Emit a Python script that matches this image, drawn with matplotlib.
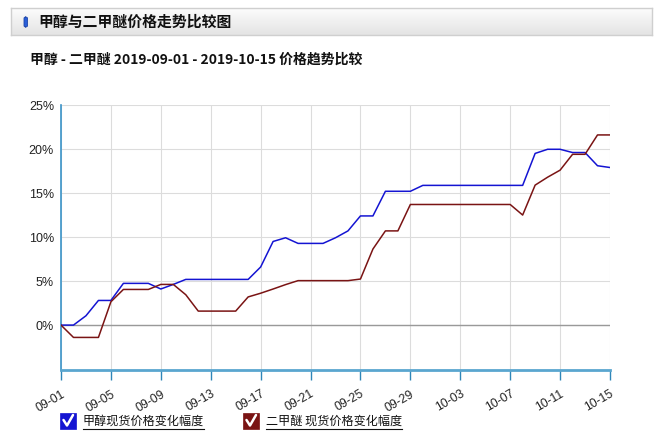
import numpy as np
import pandas as pd
import matplotlib
matplotlib.use('Agg')
import matplotlib.pyplot as plt
from matplotlib.patches import Rectangle, FancyBboxPatch
from matplotlib.lines import Line2D

plt.rcParams['font.family'] = ['Noto Sans CJK SC', 'DejaVu Sans']

# data (% change since 2019-09-01)
dates = pd.date_range('2019-09-01', '2019-10-15', freq='D')
methanol = [0, 0, 1.06, 2.8, 2.8, 4.74, 4.74, 4.74, 4.1, 4.62,
            5.19, 5.19, 5.19, 5.19, 5.19, 5.19, 6.6, 9.5, 9.92, 9.28,
            9.28, 9.28, 9.92, 10.7, 12.4, 12.4, 15.2, 15.2, 15.2, 15.87,
            15.87, 15.87, 15.87, 15.87, 15.87, 15.87, 15.87, 15.87, 19.5, 19.97,
            19.97, 19.6, 19.6, 18.1, 17.9]
dme = [0, -1.4, -1.4, -1.4, 2.65, 4.05, 4.05, 4.05, 4.62, 4.62,
       3.45, 1.59, 1.59, 1.59, 1.59, 3.2, 3.62, 4.1, 4.6, 5.05,
       5.05, 5.05, 5.05, 5.05, 5.23, 8.64, 10.7, 10.7, 13.7, 13.7,
       13.7, 13.7, 13.7, 13.7, 13.7, 13.7, 13.7, 12.5, 15.9, 16.8,
       17.6, 19.4, 19.4, 21.6, 21.6]
y_ticks = [0, 5, 10, 15, 20, 25]
series_names = ['甲醇现货价格变化幅度', '二甲醚 现货价格变化幅度']
series_colors = ['#1414d2', '#7a1414']

W, H = 658, 441
fig = plt.figure(figsize=(W / 100, H / 100), dpi=100)
fig.patch.set_facecolor('white')


def fx(px):
    return px / W


def fy(py):
    return 1 - py / H


# header bar with soft gradient
hax = fig.add_axes([fx(11), fy(35), fx(641), 27 / H])
grad = np.linspace(0, 1, 50).reshape(-1, 1)
hax.imshow(grad, aspect='auto', cmap=matplotlib.colors.LinearSegmentedColormap.from_list(
    'hdr', ['#fcfcfc', '#e4e4e4']), extent=[0, 1, 0, 1])
hax.set_xticks([])
hax.set_yticks([])
for sp in hax.spines.values():
    sp.set_color('#cfcfcf')
    sp.set_linewidth(1)

fig.add_artist(FancyBboxPatch((fx(24), fy(27)), fx(3.5), 10 / H,
                              boxstyle='round,pad=0,rounding_size=0.003',
                              transform=fig.transFigure, facecolor='#2a5fd8',
                              edgecolor='#1c44a8', linewidth=0.6))
fig.text(fx(38), fy(21.5), '甲醇与二甲醚价格走势比较图', fontsize=10.7,
         fontweight='bold', va='center', ha='left', color='#111111')

fig.text(fx(30), fy(60), '甲醇 - 二甲醚 2019-09-01 - 2019-10-15 价格趋势比较',
         fontsize=10, fontweight='bold', va='center', ha='left', color='#111111')

# main plot
ax = fig.add_axes([fx(61), fy(370), fx(549), (370 - 105) / H])
x = np.arange(len(dates))
ax.plot(x, methanol, color=series_colors[0], linewidth=1.1, zorder=3)
ax.plot(x, dme, color=series_colors[1], linewidth=1.1, zorder=3)

ax.set_xlim(0, len(dates) - 1)
ax.set_ylim(-5.1, 25)
ax.set_yticks(y_ticks)
ax.set_yticklabels([f'{v}%' for v in y_ticks], family='Liberation Sans',
                   fontsize=9, color='#222222')
xt = x[::4]
ax.set_xticks(xt)
ax.set_xticklabels([dates[i].strftime('%m-%d') for i in xt], rotation=30,
                   ha='right', rotation_mode='anchor', family='Liberation Sans',
                   fontsize=8.7, color='#222222')
ax.tick_params(axis='x', length=7, width=1, color='#2f86b8', pad=6)
ax.tick_params(axis='y', length=0, pad=5)

ax.grid(True, color='#dcdcdc', linewidth=0.8)
ax.set_axisbelow(True)
ax.axhline(0, color='#999999', linewidth=1, zorder=2)

for side in ['top', 'right']:
    ax.spines[side].set_visible(False)
ax.spines['left'].set_color('#3a93c8')
ax.spines['left'].set_linewidth(1.2)
ax.spines['bottom'].set_color('#5aa6cf')
ax.spines['bottom'].set_linewidth(2)

# legend with checkboxes
renderer = fig.canvas.get_renderer()
box_x = [60, 243]
for bx, name, col in zip(box_x, series_names, series_colors):
    fig.add_artist(Rectangle((fx(bx), fy(429)), fx(16), 16 / H,
                             transform=fig.transFigure, facecolor=col,
                             edgecolor=col, linewidth=0.5))
    cx = [bx + 3.5, bx + 7, bx + 13]
    cy = [420, 425.5, 415]
    fig.add_artist(Line2D([fx(v) for v in cx], [fy(v) for v in cy],
                          transform=fig.transFigure, color='white',
                          linewidth=1.8, solid_capstyle='round'))
    t = fig.text(fx(bx + 23), fy(421), name, fontsize=8.7, va='center',
                 ha='left', color='#111111')
    bb = t.get_window_extent(renderer)
    fig.add_artist(Line2D([bb.x0 / W, bb.x1 / W], [fy(429), fy(429)],
                          transform=fig.transFigure, color='#111111',
                          linewidth=0.8))

fig.savefig('out.png', dpi=100, facecolor='white')
